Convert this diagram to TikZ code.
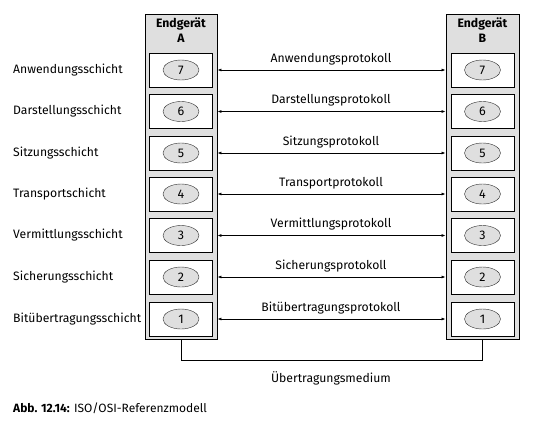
\documentclass[tikz,border=0pt]{standalone}
\usepackage{fontspec}
\setmainfont{Fira Sans}
\usetikzlibrary{arrows.meta,shapes.geometric}
\begin{document}
\begin{tikzpicture}[x=1pt,y=-1pt,
  outer/.style={draw=black,fill=gray!25,line width=0.9pt},
  inner/.style={draw=black,fill=white,line width=0.9pt,minimum width=63pt,minimum height=34pt,inner sep=0pt},
  layer/.style={draw=black!80,fill=gray!25,ellipse,minimum width=36pt,minimum height=20pt,inner sep=0pt,font=\fontsize{12.5}{13}\selectfont},
  lbl/.style={anchor=west,font=\fontsize{12.2}{14}\selectfont,inner sep=0pt},
  proto/.style={font=\fontsize{12.2}{14}\selectfont,inner sep=0pt},
  hdr/.style={font=\bfseries\fontsize{12.2}{15}\selectfont,align=center,inner sep=0pt},
  arr/.style={{Latex[length=4pt,width=3pt]}-{Latex[length=4pt,width=3pt]},line width=0.7pt},
  med/.style={line width=0.7pt}]
\useasboundingbox (0,0) rectangle (545,432);
\node[outer,minimum width=72pt,minimum height=325pt,inner sep=0pt] (A) at (181,176.5) {};
\node[outer,minimum width=73pt,minimum height=325pt,inner sep=0pt] (B) at (482.5,176.5) {};
\node[hdr] (hA) at (181,30) {Endgerät\\A};
\node[hdr] (hB) at (482.5,30) {Endgerät\\B};
\foreach \n/\y/\name/\proto in {7/70/Anwendungsschicht/Anwendungsprotokoll,
  6/111.5/Darstellungsschicht/Darstellungsprotokoll,
  5/153/Sitzungsschicht/Sitzungsprotokoll,
  4/194/Transportschicht/Transportprotokoll,
  3/235.5/Vermittlungsschicht/Vermittlungsprotokoll,
  2/277/Sicherungsschicht/Sicherungsprotokoll,
  1/319/Bitübertragungsschicht/Bitübertragungsprotokoll}{
  \node[inner] (a\n) at (181,\y) {};
  \node[inner] (b\n) at (482.5,\y) {};
  \node[layer] (ea\n) at (a\n) {\n};
  \node[layer] (eb\n) at (b\n) {\n};
  \node[lbl] (l\n) at (13,\y) {\name};
  \draw[arr] (A.east |- a\n) -- (B.west |- b\n);
  \node[proto] (p\n) at (331,\y-11) {\proto};
}
\coordinate (m1) at (181,360);
\coordinate (m2) at (482.5,360);
\draw[med] (A.south) -- (m1) -- (m2) -- (B.south);
\node[proto] (medium) at (331,378) {Übertragungsmedium};
\node[anchor=west,inner sep=0pt,font=\fontsize{12}{14}\selectfont] (cap) at (13,408) {\textbf{Abb. 12.14:} ISO/OSI-Referenzmodell};
\end{tikzpicture}
\end{document}
